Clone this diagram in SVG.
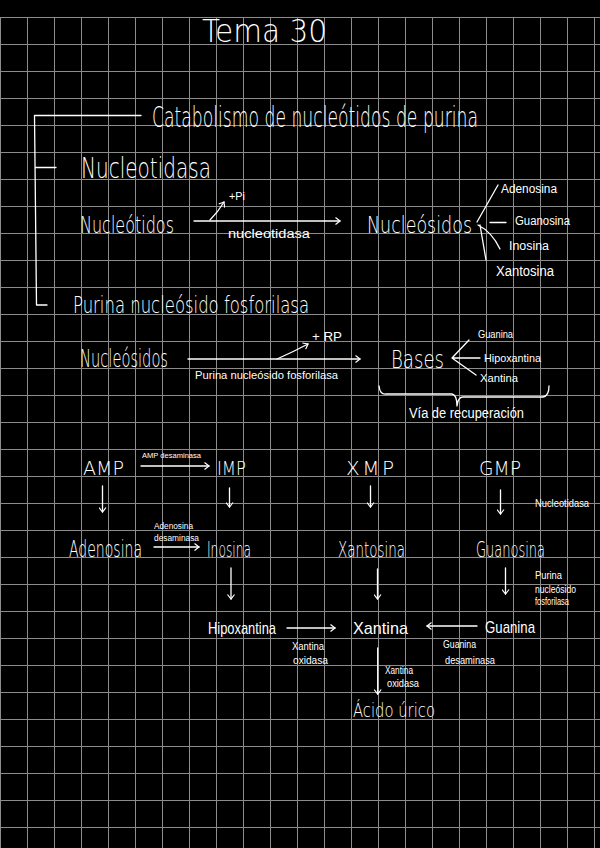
<svg xmlns="http://www.w3.org/2000/svg" width="600" height="848" viewBox="0 0 600 848">
<defs>
<style>
text{fill:#fff;font-family:"DejaVu Sans","Liberation Sans",sans-serif;font-weight:200;}
text.s{font-family:"Liberation Sans","DejaVu Sans",sans-serif;font-weight:400;}
.c{stroke:#fff;stroke-width:1.3;fill:none;stroke-linecap:round;stroke-linejoin:round;}
.grid{stroke:#8c8c8c;stroke-width:1;fill:none;}
</style>
<marker id="ah" viewBox="0 0 6 8" refX="5" refY="4" markerWidth="6" markerHeight="8" markerUnits="userSpaceOnUse" orient="auto">
<path d="M0.5,0.5 L5,4 L0.5,7.5" fill="none" stroke="#fff" stroke-width="1.2"/>
</marker>
</defs>
<rect x="0" y="0" width="600" height="848" fill="#000"/>
<path class="grid" d="M0.5,17V848M27.5,17V848M54.5,17V848M81.5,17V848M108.5,17V848M135.5,17V848M162.5,17V848M189.5,17V848M216.5,17V848M243.5,17V848M270.5,17V848M297.5,17V848M324.5,17V848M351.5,17V848M378.5,17V848M405.5,17V848M432.5,17V848M459.5,17V848M486.5,17V848M513.5,17V848M540.5,17V848M567.5,17V848M594.5,17V848
M0,17.5H600M0,44.5H600M0,71.5H600M0,98.5H600M0,125.5H600M0,152.5H600M0,179.5H600M0,206.5H600M0,233.5H600M0,260.5H600M0,287.5H600M0,314.5H600M0,341.5H600M0,368.5H600M0,395.5H600M0,422.5H600M0,449.5H600M0,476.5H600M0,503.5H600M0,530.5H600M0,557.5H600M0,584.5H600M0,611.5H600M0,638.5H600M0,665.5H600M0,692.5H600M0,719.5H600M0,746.5H600M0,773.5H600M0,800.5H600M0,827.5H600"/>

<g id="connectors">
<path class="c" d="M141,115.5 L34.5,115.5 L36.5,305 L47,305 M36,167.5 H56"/>
<path class="c" d="M194,221 H340" marker-end="url(#ah)"/>
<path class="c" d="M210,220 Q218,212 224,202" marker-end="url(#ah)"/>
<path class="c" d="M477,222 L498,185 M490,222.5 H506 M478,225 Q492,232 500,249 M480,225 L486,260"/>
<path class="c" d="M188,359 H360" marker-end="url(#ah)"/>
<path class="c" d="M277,359 Q293,352 308,344" marker-end="url(#ah)"/>
<path class="c" d="M469,340 L452,358 L476,375 M452,358 H480"/>
<path class="c" d="M379,386 Q380,395 386,394 L452,394 Q457,395 457,406 Q458,397 463,397 L543,397 Q549,396 549,386"/>
<path class="c" d="M141,466 H209" marker-end="url(#ah)"/>
<path class="c" d="M102.5,486 V512" marker-end="url(#ah)"/>
<path class="c" d="M229.5,488 V507" marker-end="url(#ah)"/>
<path class="c" d="M370.5,486 V507" marker-end="url(#ah)"/>
<path class="c" d="M500.5,490 V514" marker-end="url(#ah)"/>
<path class="c" d="M154,547 H199" marker-end="url(#ah)"/>
<path class="c" d="M231,568 V599" marker-end="url(#ah)"/>
<path class="c" d="M377.5,569 V599" marker-end="url(#ah)"/>
<path class="c" d="M505.5,568 V594" marker-end="url(#ah)"/>
<path class="c" d="M287,628 H335" marker-end="url(#ah)"/>
<path class="c" d="M477,626 H427" marker-end="url(#ah)"/>
<path class="c" d="M377.7,648 V694" marker-end="url(#ah)"/>
</g>

<g id="title"><text x="202" y="42" font-size="32" textLength="125" lengthAdjust="spacingAndGlyphs">Tema 30</text></g>
<g id="heading"><text x="152" y="127" font-size="29" textLength="326" lengthAdjust="spacingAndGlyphs">Catabolismo de nucleótidos de purina</text></g>
<g id="nucleotidasa-title"><text x="81" y="178" font-size="29" textLength="130" lengthAdjust="spacingAndGlyphs">Nucleotidasa</text></g>
<g id="nucleotidos-1"><text x="80" y="233" font-size="23" textLength="94" lengthAdjust="spacingAndGlyphs">Nucleótidos</text></g>
<g id="label-pi"><text class="s" x="229" y="200" font-size="11" textLength="16" lengthAdjust="spacingAndGlyphs">+Pi</text></g>
<g id="label-nucleotidasa"><text class="s" x="228" y="238" font-size="12" textLength="82" lengthAdjust="spacingAndGlyphs">nucleotidasa</text></g>
<g id="nucleosidos-1"><text x="367" y="233" font-size="23" textLength="105" lengthAdjust="spacingAndGlyphs">Nucleósidos</text></g>
<g id="adenosina-1"><text class="s" x="501" y="193" font-size="12" textLength="56" lengthAdjust="spacingAndGlyphs">Adenosina</text></g>
<g id="guanosina-1"><text class="s" x="515" y="225" font-size="12" textLength="55" lengthAdjust="spacingAndGlyphs">Guanosina</text></g>
<g id="inosina-1"><text class="s" x="509" y="250" font-size="12" textLength="40" lengthAdjust="spacingAndGlyphs">Inosina</text></g>
<g id="xantosina-1"><text class="s" x="496" y="276" font-size="14" textLength="58" lengthAdjust="spacingAndGlyphs">Xantosina</text></g>
<g id="pnp-title"><text x="73" y="313" font-size="23" textLength="236" lengthAdjust="spacingAndGlyphs">Purina nucleósido fosforilasa</text></g>
<g id="nucleosidos-2"><text x="80" y="367" font-size="25" textLength="88" lengthAdjust="spacingAndGlyphs">Nucleósidos</text></g>
<g id="label-rp"><text class="s" x="312" y="341" font-size="12" textLength="30" lengthAdjust="spacingAndGlyphs">+ RP</text></g>
<g id="label-pnp"><text class="s" x="195" y="379" font-size="11" textLength="143" lengthAdjust="spacingAndGlyphs">Purina nucleósido fosforilasa</text></g>
<g id="bases"><text x="391" y="368" font-size="25" textLength="53" lengthAdjust="spacingAndGlyphs">Bases</text></g>
<g id="guanina-1"><text class="s" x="478" y="338" font-size="11" textLength="35" lengthAdjust="spacingAndGlyphs">Guanina</text></g>
<g id="hipoxantina-1"><text class="s" x="484" y="362" font-size="11" textLength="57" lengthAdjust="spacingAndGlyphs">Hipoxantina</text></g>
<g id="xantina-1"><text class="s" x="480" y="382" font-size="11" textLength="38" lengthAdjust="spacingAndGlyphs">Xantina</text></g>
<g id="via"><text class="s" x="409" y="418" font-size="14" textLength="115" lengthAdjust="spacingAndGlyphs">Vía de recuperación</text></g>
<g id="amp"><text x="83" y="475" font-size="20" textLength="41" lengthAdjust="spacingAndGlyphs">AMP</text></g>
<g id="label-amp-desaminasa"><text class="s" x="142" y="458" font-size="8" textLength="59" lengthAdjust="spacingAndGlyphs">AMP desaminasa</text></g>
<g id="imp"><text x="217" y="475" font-size="20" textLength="29" lengthAdjust="spacingAndGlyphs">IMP</text></g>
<g id="xmp"><text x="346" y="475" font-size="20" textLength="48" lengthAdjust="spacing">XMP</text></g>
<g id="gmp"><text x="479" y="475" font-size="20" textLength="42" lengthAdjust="spacingAndGlyphs">GMP</text></g>
<g id="label-nucleotidasa-2"><text class="s" x="535" y="507" font-size="11" textLength="54" lengthAdjust="spacingAndGlyphs">Nucleotidasa</text></g>
<g id="adenosina-2"><text x="69" y="557" font-size="23" textLength="73" lengthAdjust="spacingAndGlyphs">Adenosina</text></g>
<g id="label-ada"><text class="s" x="154" y="529" font-size="8.5" textLength="39" lengthAdjust="spacingAndGlyphs">Adenosina</text><text class="s" x="154" y="541" font-size="8.5" textLength="45" lengthAdjust="spacingAndGlyphs">desaminasa</text></g>
<g id="inosina-2"><text x="207" y="557" font-size="21" textLength="44" lengthAdjust="spacingAndGlyphs">Inosina</text></g>
<g id="xantosina-2"><text x="338" y="557" font-size="21" textLength="67" lengthAdjust="spacingAndGlyphs">Xantosina</text></g>
<g id="guanosina-2"><text x="476" y="557" font-size="21" textLength="69" lengthAdjust="spacingAndGlyphs">Guanosina</text></g>
<g id="label-pnp-2"><text class="s" x="535" y="579" font-size="10" textLength="27" lengthAdjust="spacingAndGlyphs">Purina</text><text class="s" x="535" y="593" font-size="10" textLength="41" lengthAdjust="spacingAndGlyphs">nucleósido</text><text class="s" x="535" y="605" font-size="10" textLength="34" lengthAdjust="spacingAndGlyphs">fosforilasa</text></g>
<g id="hipoxantina-2"><text class="s" x="208" y="634" font-size="17" textLength="68" lengthAdjust="spacingAndGlyphs">Hipoxantina</text></g>
<g id="label-xo-1"><text class="s" x="292" y="650" font-size="11" textLength="32" lengthAdjust="spacingAndGlyphs">Xantina</text><text class="s" x="293" y="664" font-size="11" textLength="35" lengthAdjust="spacingAndGlyphs">oxidasa</text></g>
<g id="xantina-2"><text class="s" x="353" y="634" font-size="17" textLength="55" lengthAdjust="spacingAndGlyphs">Xantina</text></g>
<g id="guanina-2"><text class="s" x="485" y="633" font-size="17" textLength="50" lengthAdjust="spacingAndGlyphs">Guanina</text></g>
<g id="label-gd"><text class="s" x="443" y="648" font-size="11" textLength="33" lengthAdjust="spacingAndGlyphs">Guanina</text><text class="s" x="445" y="664" font-size="11" textLength="50" lengthAdjust="spacingAndGlyphs">desaminasa</text></g>
<g id="label-xo-2"><text class="s" x="385" y="674" font-size="11" textLength="28" lengthAdjust="spacingAndGlyphs">Xantina</text><text class="s" x="387" y="687" font-size="11" textLength="32" lengthAdjust="spacingAndGlyphs">oxidasa</text></g>
<g id="acido-urico"><text x="353" y="717" font-size="19" textLength="82" lengthAdjust="spacingAndGlyphs">Ácido úrico</text></g>
</svg>
